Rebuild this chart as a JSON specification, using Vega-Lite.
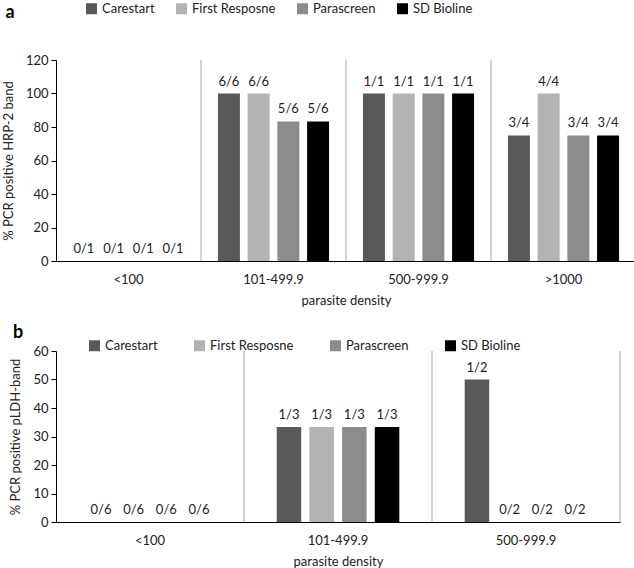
{
  "$schema": "https://vega.github.io/schema/vega-lite/v6.json",
  "padding": {"left": 2, "top": 2, "right": 0, "bottom": 0},
  "background": "white",
  "config": {
    "font": "Lato",
    "view": {"stroke": null},
    "axis": {"grid": false, "labelFontSize": 13, "titleFontSize": 13, "titleFontWeight": "normal", "labelColor": "#222", "titleColor": "#222", "domainColor": "#000", "tickColor": "#000"},
    "axisX": {"labelAngle": 0, "labelAlign": "center", "ticks": false, "labelPadding": 12, "titlePadding": 8},
    "axisY": {"tickSize": 5, "labelPadding": 3, "titlePadding": 10},
    "legend": {"labelFontSize": 13, "labelColor": "#222"},
    "text": {"font": "Lato"}
  },
  "datasets": {
    "a": [
      {"density": "<100", "test": "Carestart", "pct": 0, "label": "0/1"},
      {"density": "<100", "test": "First Resposne", "pct": 0, "label": "0/1"},
      {"density": "<100", "test": "Parascreen", "pct": 0, "label": "0/1"},
      {"density": "<100", "test": "SD Bioline", "pct": 0, "label": "0/1"},
      {"density": "101-499.9", "test": "Carestart", "pct": 100, "label": "6/6"},
      {"density": "101-499.9", "test": "First Resposne", "pct": 100, "label": "6/6"},
      {"density": "101-499.9", "test": "Parascreen", "pct": 83.3, "label": "5/6"},
      {"density": "101-499.9", "test": "SD Bioline", "pct": 83.3, "label": "5/6"},
      {"density": "500-999.9", "test": "Carestart", "pct": 100, "label": "1/1"},
      {"density": "500-999.9", "test": "First Resposne", "pct": 100, "label": "1/1"},
      {"density": "500-999.9", "test": "Parascreen", "pct": 100, "label": "1/1"},
      {"density": "500-999.9", "test": "SD Bioline", "pct": 100, "label": "1/1"},
      {"density": ">1000", "test": "Carestart", "pct": 75, "label": "3/4"},
      {"density": ">1000", "test": "First Resposne", "pct": 100, "label": "4/4"},
      {"density": ">1000", "test": "Parascreen", "pct": 75, "label": "3/4"},
      {"density": ">1000", "test": "SD Bioline", "pct": 75, "label": "3/4"}
    ],
    "b": [
      {"density": "<100", "test": "Carestart", "pct": 0, "label": "0/6"},
      {"density": "<100", "test": "First Resposne", "pct": 0, "label": "0/6"},
      {"density": "<100", "test": "Parascreen", "pct": 0, "label": "0/6"},
      {"density": "<100", "test": "SD Bioline", "pct": 0, "label": "0/6"},
      {"density": "101-499.9", "test": "Carestart", "pct": 33.3, "label": "1/3"},
      {"density": "101-499.9", "test": "First Resposne", "pct": 33.3, "label": "1/3"},
      {"density": "101-499.9", "test": "Parascreen", "pct": 33.3, "label": "1/3"},
      {"density": "101-499.9", "test": "SD Bioline", "pct": 33.3, "label": "1/3"},
      {"density": "500-999.9", "test": "Carestart", "pct": 50, "label": "1/2"},
      {"density": "500-999.9", "test": "First Resposne", "pct": 0, "label": "0/2"},
      {"density": "500-999.9", "test": "Parascreen", "pct": 0, "label": "0/2"},
      {"density": "500-999.9", "test": "SD Bioline", "pct": 0, "label": "0/2"}
    ]
  },
  "spacing": 17,
  "resolve": {"scale": {"color": "independent", "x": "independent", "y": "independent", "xOffset": "independent"}, "legend": {"color": "independent"}},
  "vconcat": [
    {
      "width": 580,
      "height": 201,
      "data": {"name": "a"},
      "title": {"text": "a", "anchor": "start", "frame": "bounds", "fontSize": 18, "fontWeight": "bold", "color": "#000", "offset": -20, "dx": 3},
      "layer": [
        {
          "mark": {"type": "rule", "color": "#a6a6a6", "strokeWidth": 1},
          "transform": [{"filter": "datum.test === 'Carestart'"}],
          "encoding": {
            "x": {"field": "density", "type": "nominal", "sort": ["<100", "101-499.9", "500-999.9", ">1000"], "bandPosition": 1, "title": "parasite density"},
            "y": {"datum": 0, "type": "quantitative", "title": "% PCR positive HRP-2 band", "axis": {"values": [0, 20, 40, 60, 80, 100, 120]}},
            "y2": {"datum": 120}
          }
        },
        {
          "mark": {"type": "bar"},
          "encoding": {
            "x": {"field": "density", "type": "nominal", "sort": ["<100", "101-499.9", "500-999.9", ">1000"], "title": "parasite density",
                  "scale": {"paddingInner": 0, "paddingOuter": 0}},
            "xOffset": {"field": "test", "type": "nominal", "scale": {"paddingInner": 0.26, "paddingOuter": 0.57}},
            "y": {"field": "pct", "type": "quantitative", "title": "% PCR positive HRP-2 band",
                  "scale": {"domain": [0, 120]},
                  "axis": {"values": [0, 20, 40, 60, 80, 100, 120]}},
            "color": {"field": "test", "type": "nominal",
                      "scale": {"domain": ["Carestart", "First Resposne", "Parascreen", "SD Bioline"], "range": ["#595959", "#b3b3b3", "#8c8c8c", "#000000"]},
                      "legend": {"orient": "none", "legendX": 29, "legendY": -58, "direction": "horizontal", "title": null, "symbolType": "square", "symbolSize": 121, "symbolStrokeWidth": 0, "columnPadding": 20, "labelOffset": 4}}
          }
        },
        {
          "mark": {"type": "text", "baseline": "bottom", "dy": -5, "fontSize": 13, "color": "#222"},
          "encoding": {
            "x": {"field": "density", "type": "nominal", "sort": ["<100", "101-499.9", "500-999.9", ">1000"], "title": "parasite density"},
            "xOffset": {"field": "test", "type": "nominal"},
            "y": {"field": "pct", "type": "quantitative", "title": "% PCR positive HRP-2 band", "axis": {"values": [0, 20, 40, 60, 80, 100, 120]}},
            "text": {"field": "label"}
          }
        }
      ]
    },
    {
      "width": 564,
      "height": 171,
      "data": {"name": "b"},
      "title": {"text": "b", "anchor": "start", "frame": "bounds", "fontSize": 18, "fontWeight": "bold", "color": "#000", "offset": -3, "dx": 3},
      "layer": [
        {
          "mark": {"type": "rule", "color": "#a6a6a6", "strokeWidth": 1},
          "transform": [{"filter": "datum.test === 'Carestart'"}],
          "encoding": {
            "x": {"field": "density", "type": "nominal", "sort": ["<100", "101-499.9", "500-999.9"], "bandPosition": 1, "title": "parasite density"},
            "y": {"datum": 0, "type": "quantitative", "title": "% PCR positive pLDH-band", "axis": {"values": [0, 10, 20, 30, 40, 50, 60]}},
            "y2": {"datum": 60}
          }
        },
        {
          "mark": {"type": "bar"},
          "encoding": {
            "x": {"field": "density", "type": "nominal", "sort": ["<100", "101-499.9", "500-999.9"], "title": "parasite density",
                  "scale": {"paddingInner": 0, "paddingOuter": 0}},
            "xOffset": {"field": "test", "type": "nominal", "scale": {"paddingInner": 0.25, "paddingOuter": 1.06}},
            "y": {"field": "pct", "type": "quantitative", "title": "% PCR positive pLDH-band",
                  "scale": {"domain": [0, 60]},
                  "axis": {"values": [0, 10, 20, 30, 40, 50, 60]}},
            "color": {"field": "test", "type": "nominal",
                      "scale": {"domain": ["Carestart", "First Resposne", "Parascreen", "SD Bioline"], "range": ["#595959", "#b3b3b3", "#8c8c8c", "#000000"]},
                      "legend": {"orient": "none", "legendX": 32, "legendY": -12, "direction": "horizontal", "title": null, "symbolType": "square", "symbolSize": 121, "symbolStrokeWidth": 0, "columnPadding": 35, "labelOffset": 4}}
          }
        },
        {
          "mark": {"type": "text", "baseline": "bottom", "dy": -5, "fontSize": 13, "color": "#222"},
          "encoding": {
            "x": {"field": "density", "type": "nominal", "sort": ["<100", "101-499.9", "500-999.9"], "title": "parasite density"},
            "xOffset": {"field": "test", "type": "nominal"},
            "y": {"field": "pct", "type": "quantitative", "title": "% PCR positive pLDH-band", "axis": {"values": [0, 10, 20, 30, 40, 50, 60]}},
            "text": {"field": "label"}
          }
        }
      ]
    }
  ]
}
